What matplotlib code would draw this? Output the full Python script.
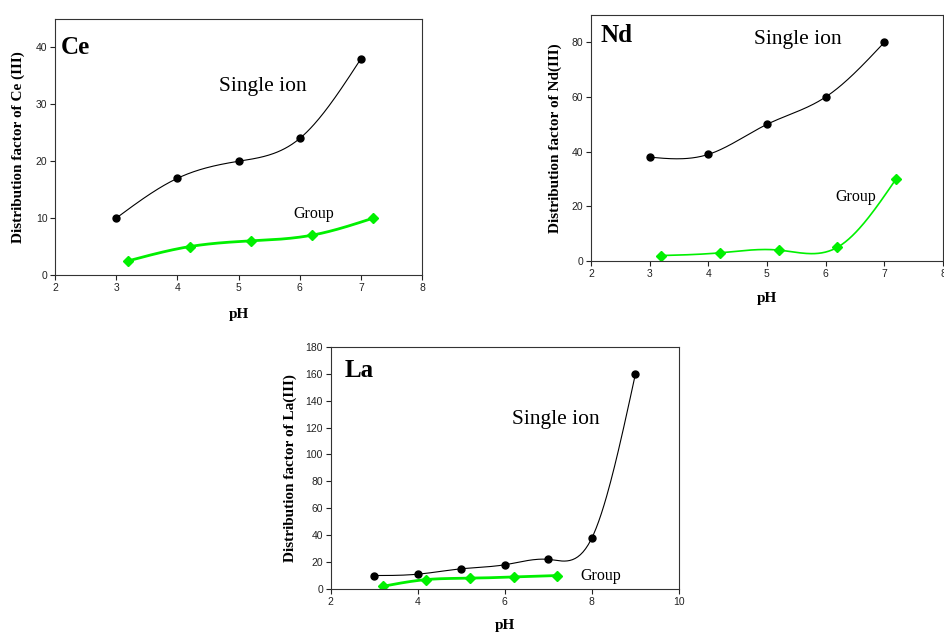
import numpy as np
import matplotlib
matplotlib.use('Agg')
import matplotlib.pyplot as plt

# Ce(III)
ce_ph_single = [3, 4, 5, 6, 7]
ce_single = [10, 17, 20, 24, 38]
ce_ph_group = [3.2, 4.2, 5.2, 6.2, 7.2]
ce_group = [2.5, 5, 6, 7, 10]

# Nd(III)
nd_ph_single = [3, 4, 5, 6, 7]
nd_single = [38, 39, 50, 60, 80]
nd_ph_group = [3.2, 4.2, 5.2, 6.2, 7.2]
nd_group = [2, 3, 4, 5, 30]

# La(III)
la_ph_single = [3, 4, 5, 6, 7, 8, 9]
la_single = [10, 11, 15, 18, 22, 38, 160]
la_ph_group = [3.2, 4.2, 5.2, 6.2, 7.2]
la_group = [2, 7, 8, 9, 10]

GREEN = '#00f000'
SERIF = 'Liberation Serif'


def spline(x, y, n=200):
    # natural cubic spline, only used to draw the smooth connecting line
    x = np.asarray(x, float)
    y = np.asarray(y, float)
    m = len(x)
    h = np.diff(x)
    A = np.zeros((m, m))
    b = np.zeros(m)
    A[0, 0] = A[-1, -1] = 1
    for i in range(1, m - 1):
        A[i, i - 1] = h[i - 1]
        A[i, i] = 2 * (h[i - 1] + h[i])
        A[i, i + 1] = h[i]
        b[i] = 6 * ((y[i + 1] - y[i]) / h[i] - (y[i] - y[i - 1]) / h[i - 1])
    M = np.linalg.solve(A, b)
    xs = np.linspace(x[0], x[-1], n)
    idx = np.clip(np.searchsorted(x, xs) - 1, 0, m - 2)
    x0, x1 = x[idx], x[idx + 1]
    hh = x1 - x0
    t0, t1 = x1 - xs, xs - x0
    ys = (M[idx] * t0 ** 3 + M[idx + 1] * t1 ** 3) / (6 * hh) \
        + (y[idx] / hh - M[idx] * hh / 6) * t0 + (y[idx + 1] / hh - M[idx + 1] * hh / 6) * t1
    return xs, ys


def panel(fig, rect, xs, ys, xg, yg, green_lw, xlim, ylim, xticks, yticks,
          ylabel, name, name_xy, single_xy, group_xy, xlab_y, ylab_x):
    ax = fig.add_axes(rect)
    sx, sy = spline(xs, ys)
    ax.plot(sx, sy, color='black', lw=0.8)
    ax.plot(xs, ys, 'o', color='black', ms=5)
    gx, gy = spline(xg, yg)
    ax.plot(gx, gy, color=GREEN, lw=green_lw)
    ax.plot(xg, yg, 'D', color=GREEN, ms=5.5)

    ax.set_xlim(*xlim)
    ax.set_ylim(*ylim)
    ax.set_xticks(xticks)
    ax.set_yticks(yticks)
    ax.tick_params(direction='out', length=3.5, width=0.8, labelsize=7.5,
                   colors='#222222', pad=2)
    for lab in ax.get_xticklabels() + ax.get_yticklabels():
        lab.set_family('Liberation Sans')
    for sp in ax.spines.values():
        sp.set_linewidth(0.8)
        sp.set_color('#333333')

    ax.set_xlabel('pH', family=SERIF, weight='bold', fontsize=11)
    ax.set_ylabel(ylabel, family=SERIF, weight='bold', fontsize=11)
    ax.xaxis.set_label_coords(0.5, xlab_y)
    ax.yaxis.set_label_coords(ylab_x, 0.5)

    ax.text(*name_xy, name, family=SERIF, weight='bold', fontsize=18,
            ha='left', va='center')
    ax.text(*single_xy, 'Single ion', family=SERIF, fontsize=15.5,
            ha='center', va='center')
    ax.text(*group_xy, 'Group', family=SERIF, fontsize=11.5,
            ha='center', va='center')
    return ax


fig = plt.figure(figsize=(9.44, 6.34), dpi=100)

panel(fig, [0.0583, 0.5662, 0.3888, 0.4038],
      ce_ph_single, ce_single, ce_ph_group, ce_group, 2.0,
      (2, 8), (0, 45), range(2, 9), range(0, 41, 10),
      'Distribution factor of Ce (III)', 'Ce',
      (2.1, 40), (5.4, 33.1), (6.23, 10.7), -0.129, -0.082)

panel(fig, [0.626, 0.5883, 0.3729, 0.388],
      nd_ph_single, nd_single, nd_ph_group, nd_group, 1.2,
      (2, 8), (0, 90), range(2, 9), range(0, 81, 20),
      'Distribution factor of Nd(III)', 'Nd',
      (2.17, 82.5), (5.53, 81), (6.52, 23.3), -0.125, -0.082)

panel(fig, [0.3503, 0.071, 0.369, 0.382],
      la_ph_single, la_single, la_ph_group, la_group, 2.0,
      (2, 10), (0, 180), range(2, 11, 2), range(0, 181, 20),
      'Distribution factor of La(III)', 'La',
      (2.31, 162.7), (7.16, 126), (8.21, 9.9), -0.124, -0.097)

fig.savefig('out.png', dpi=100)
